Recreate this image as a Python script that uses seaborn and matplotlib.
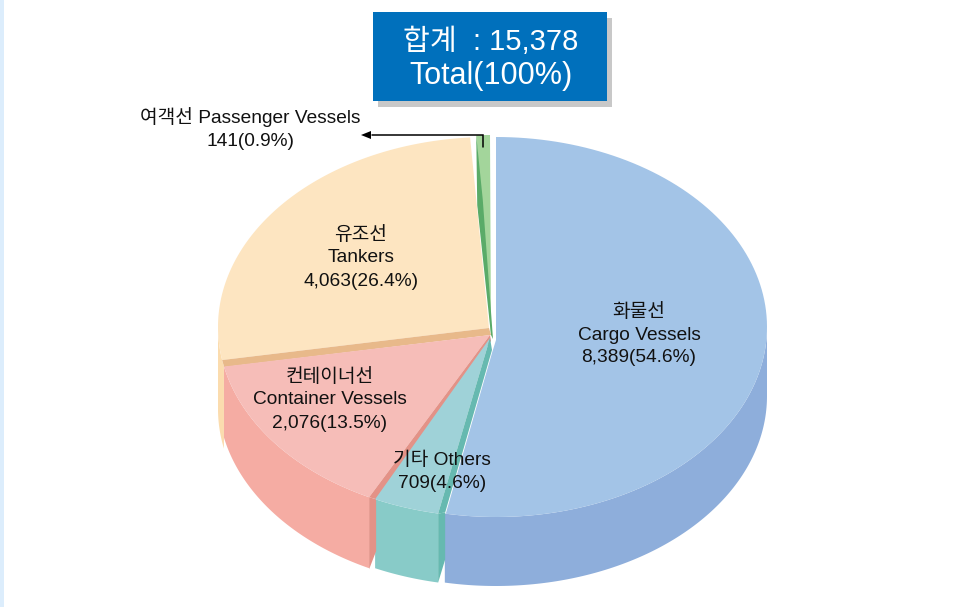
import numpy as np
import matplotlib
matplotlib.use("Agg")
import matplotlib.pyplot as plt
from matplotlib.patches import Rectangle
import seaborn as sns

# ---- data -------------------------------------------------------------
names_ko = ["화물선", "기타", "컨테이너선", "유조선", "여객선"]
names_en = ["Cargo Vessels", "Others", "Container Vessels", "Tankers", "Passenger Vessels"]
values = [8389, 709, 2076, 4063, 141]
shares = [54.6, 4.6, 13.5, 26.4, 0.9]
total = 15378

# ---- style and layout --------------------------------------------------
top_colors = ["#a3c4e7", "#9fd2d8", "#f6bdb8", "#fde5c1", "#a3d59b"]
side_colors = ["#8eaedb", "#88cbc8", "#f5aca3", "#fbdcae", None]
cut_colors = [None, "#66b9b0", "#e39287", "#e8b98a", "#5aab68"]
centers = [(496, 327), (490, 327), (490, 327), (489, 327), (490, 325)]
radii = [(271, 190), (272, 190), (272, 190), (271, 190), (272, 190)]
apexes = [(496, 340), (490, 338), (490, 335), (489, 328), (491, 335)]
start_nudge = [0, -5.4, -6.6, -1.6, 0.4]
end_nudge = [-5.5, -8.0, -3.6, -0.7, 0]
depths = [69, 69, 71, 82, 0]
side_from = [90, None, None, None, None]
side_to = [None, None, None, 270, None]
cut_corner_shift = [None, (7, -1), (7, 2), (2, 7), (6.5, 64)]
cut_apex_shift = [None, (2, 12), (1, 6), (2, 7), (2, 4)]
cut_side = [None, (46, 69), (54, 72), None, None]

sns.set_theme(style="white")
plt.rcParams["font.family"] = ["Liberation Sans", "Noto Sans CJK KR", "DejaVu Sans"]

fig = plt.figure(figsize=(9.59, 6.07), dpi=100, facecolor="white")
ax = fig.add_axes([0, 0, 1, 1])
ax.set_xlim(0, 959)
ax.set_ylim(607, 0)
ax.axis("off")
sns.despine(ax=ax, left=True, bottom=True)

ax.add_patch(Rectangle((0, 0), 4, 607, color="#dcedfc", lw=0))


def arc(center, radius, a0, a1, n=120):
    t = np.radians(np.linspace(a0, a1, n))
    return np.column_stack([center[0] + radius[0] * np.sin(t),
                            center[1] - radius[1] * np.cos(t)])


cum = np.cumsum([0] + values) / sum(values) * 360
order = [4, 3, 2, 1, 0]

# side walls first
for i in order:
    if side_colors[i] is None:
        continue
    a0 = cum[i] + start_nudge[i] if side_from[i] is None else side_from[i]
    a1 = cum[i + 1] + end_nudge[i] if side_to[i] is None else side_to[i]
    if i == 3:
        a0 = cum[i] + start_nudge[i] - 2
    top = arc(centers[i], radii[i], a0, a1)
    low = top[::-1] + np.array([0, depths[i]])
    poly = np.vstack([top, low])
    ax.fill(poly[:, 0], poly[:, 1], color=side_colors[i], lw=0, zorder=1 if i == 3 else 2)

# top faces and cut faces
for i in order:
    a0 = cum[i] + start_nudge[i]
    a1 = cum[i + 1] + end_nudge[i]
    top = arc(centers[i], radii[i], a0, a1)
    apex = np.array(apexes[i], float)
    z = 5 + (4 - i)
    if i == 0:
        poly = np.vstack([top, [top[-1] + (1, 0)], [(apex[0] - 4, apex[1] + 13)], [apex]])
    else:
        poly = np.vstack([top, [apex]])
    ax.fill(poly[:, 0], poly[:, 1], color=top_colors[i], lw=0, zorder=z)
    if cut_colors[i] is not None:
        c = top[0]
        strip = np.array([c, c + cut_corner_shift[i], apex + cut_apex_shift[i], apex])
        if i == 4:
            strip = np.array([c, c + cut_corner_shift[i], apex + cut_apex_shift[i], apex, c + (1, 70)])
        ax.fill(strip[:, 0], strip[:, 1], color=cut_colors[i], lw=0, zorder=z + 0.5)
    if cut_side[i] is not None:
        c = top[0]
        s = cut_corner_shift[i]
        wall = np.array([c, c + s, (c[0] + s[0], c[1] + cut_side[i][0]), (c[0], c[1] + cut_side[i][1])])
        ax.fill(wall[:, 0], wall[:, 1], color=cut_colors[i], lw=0, zorder=z + 0.5)

# total box
ax.add_patch(Rectangle((378, 18), 234, 89, color="#c8c8c8", lw=0, zorder=20))
ax.add_patch(Rectangle((373, 12), 234, 89, color="#0070bc", lw=0, zorder=21))
ax.text(491, 42, f"합계  : {total:,}", color="white", fontsize=21, ha="center", va="center", zorder=22)
ax.text(491, 76, "Total(100%)", color="white", fontsize=22, ha="center", va="center", zorder=22)

# labels
FS = 13.8


def label(x, ys, lines):
    for y, s in zip(ys, lines):
        ax.text(x, y, s, fontsize=FS, color="#111111", ha="center", va="center", zorder=30)


def val(i):
    return f"{values[i]:,}({shares[i]}%)"


label(639, [312, 335, 358], [names_ko[0], names_en[0], val(0)])
label(361, [235, 258, 281], [names_ko[3], names_en[3], val(3)])
label(330, [377, 400, 423], [names_ko[2], names_en[2], val(2)])
label(442, [460, 483], [f"{names_ko[1]} {names_en[1]}", val(1)])
label(250, [117, 141], [f"{names_ko[4]} {names_en[4]}", val(4)])

# leader
ax.plot([483, 483, 372], [147, 135, 135], color="black", lw=1.1, zorder=31, solid_joinstyle="miter")
ax.fill([361, 371, 371], [135, 131, 139], color="black", lw=0, zorder=31)

fig.savefig("out.png", dpi=100)
